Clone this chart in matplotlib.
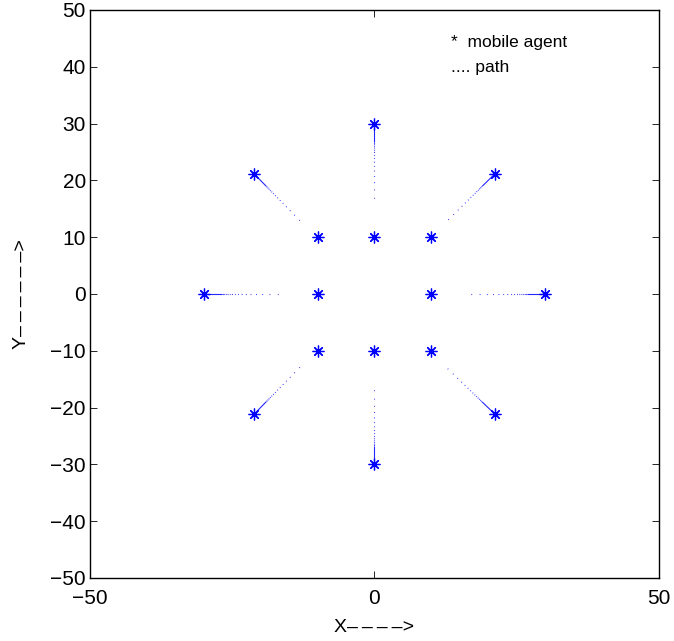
import numpy as np
import matplotlib
matplotlib.use("Agg")
import matplotlib.pyplot as plt

plt.rcParams['font.family'] = ['Liberation Sans', 'DejaVu Sans']
plt.rcParams['lines.scale_dashes'] = False

# === Datos ===
# posiciones iniciales de los agentes (radio 30)
inicio_x = [30, 21.2, 0, -21.2, -30, -21.2, 0, 21.2]
inicio_y = [0, 21.2, 30, 21.2, 0, -21.2, -30, -21.2]
# donde termina el trazo de cada camino
fin_x = [16.0, 12.5, 0, -12.9, -16.5, -12.9, 0, 12.5]
fin_y = [0, 12.6, 16.2, 12.7, 0, -12.7, -16.2, -12.8]
# agentes interiores
interior_x = [10, 10, 0, -10, -10, -10, 0, 10]
interior_y = [0, 10, 10, 10, 0, -10, -10, -10]

x_ticks = [-50, 0, 50]
y_ticks = list(range(-50, 51, 10))

# === Figura ===
fig = plt.figure(figsize=(6.74, 6.41), dpi=100)
ax = fig.add_axes([0.1335, 0.0983, 0.8442, 0.8861])

# caminos: casi solido junto al agente, puntos cada vez mas separados hacia dentro
# (Agg admite como maximo 32 valores en el patron de guiones)
huecos = [0.3, 0.4, 0.5, 0.7, 0.9, 1.1, 1.4, 1.7, 2.0, 2.4, 2.8, 3.3, 3.9, 4.6, 5.4]
patron = [13.0]
for g in huecos:
    patron += [g, 0.6]
patron += [80.0]
for i in range(len(inicio_x)):
    ax.plot([inicio_x[i], fin_x[i]], [inicio_y[i], fin_y[i]], color='#0000ff',
            lw=0.8, alpha=0.85, dashes=patron, solid_capstyle='butt')

# agentes
estrella = (8, 2, 0)
for xs, ys in [(inicio_x, inicio_y), (interior_x, interior_y)]:
    ax.plot(xs, ys, linestyle='none', marker=estrella, markersize=8.5,
            markeredgecolor='#0000ff', markeredgewidth=0.9)

# leyenda de texto
ax.text(13.5, 44.2, "*  mobile agent", fontsize=12.5, va='center', ha='left')
ax.text(13.5, 39.8, ".... path", fontsize=12.5, va='center', ha='left')

ax.set_xlim(-50, 50)
ax.set_ylim(-50, 50)
ax.set_xticks(x_ticks)
ax.set_yticks(y_ticks)
ax.set_xticklabels(["\u221250", "0", "50"])
ax.set_yticklabels([str(v).replace("-", "\u2212") for v in y_ticks])
ax.tick_params(direction='in', top=True, right=True, length=5, width=0.6,
               labelsize=15)
ax.tick_params(axis='x', pad=8)
ax.tick_params(axis='y', pad=3)
for s in ax.spines.values():
    s.set_linewidth(1.0)

gu = "\u2013\u2009"
ax.set_xlabel("X" + gu * 3 + "\u2013>", fontsize=14)
ax.set_ylabel("Y" + gu * 5 + "\u2013>", fontsize=14)
ax.xaxis.set_label_coords(0.5, -0.088)
ax.xaxis.label.set_va('center')
ax.yaxis.set_label_coords(-0.120, 0.5)
ax.yaxis.label.set_va('center')

fig.savefig("out.png", dpi=100)
